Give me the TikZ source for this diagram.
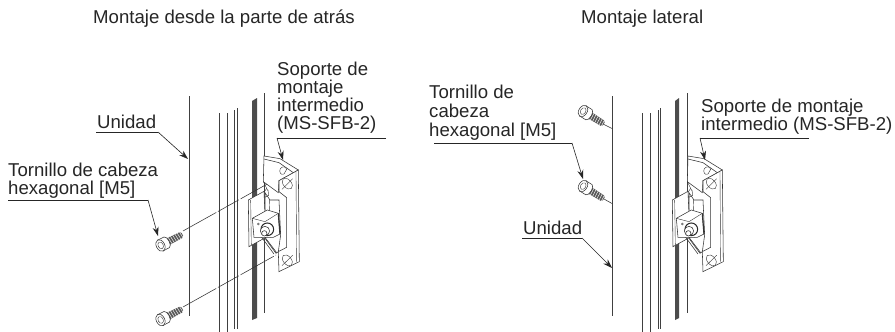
\documentclass[tikz,border=0pt]{standalone}
\usepackage{fontspec}
\setmainfont{Liberation Sans}
\usetikzlibrary{arrows.meta}
\tikzset{
  every picture/.style={x=1pt,y=-1pt},
  lbl/.style={inner sep=0pt,anchor=base west,font=\fontsize{18.6}{18}\selectfont,text=black!85},
  lead/.style={line width=0.6pt,black!85},
  arr/.style={line width=0.6pt,black!85,-{Stealth[length=9pt,width=6pt]}},
  part/.style={line width=0.55pt,black!80},
  thin part/.style={line width=0.4pt,black!80},
  rail/.style={line width=0.75pt,black!75},
  ctr/.style={line width=0.55pt,black!80,dash pattern=on 38pt off 2pt on 24pt off 2pt},
}
\newcommand{\bracketpart}{%
  % top flange
  \draw[part,fill=white] (402,18) -- (450,26) -- (505,60) -- (447,92) -- (445,128) -- (400,95) -- cycle;
  \draw[part] (402,27) -- (447,38) -- (490,68);
  \draw[thin part,fill=white] (450,58) .. controls (456,46) and (468,50) .. (470,58) -- (462,72) .. controls (452,76) and (448,68) .. (450,58) -- cycle;
  % main face
  \draw[part,fill=white] (447,92) -- (505,60) -- (508,335) -- (447,365) -- (445,305) -- (470,292) -- (470,143) -- (447,125) -- cycle;
  \draw[thin part] (498,66) -- (500,335);
  \draw[thin part,rotate around={-50:(472,101)},fill=white] (472,101) ellipse (19 and 12);
  \draw[thin part,rotate around={-50:(472,331)},fill=white] (472,331) ellipse (19 and 12);
  \draw[thin part] (456,118) -- (488,86);
  \draw[thin part] (456,347) -- (488,316);
  % inner slot
  \draw[part,fill=white] (405,128) -- (420,150) -- (447,150) -- (452,255) -- (445,305) -- (438,310) -- (405,265) -- cycle;
  \draw[thin part] (418,150) -- (422,262);
  \draw[thin part] (400,95) -- (415,125) (410,115) -- (400,130) -- (404,142) -- (416,136) -- (414,120);
  % front plate
  \draw[part,fill=white] (355,150) -- (402,124) -- (408,262) -- (357,290) -- cycle;
  \draw[thin part] (362,150) -- (364,285);
  % block
  \draw[part,fill=white] (367,205) -- (412,180) -- (445,190) -- (450,252) -- (430,262) -- (412,262) -- (372,262) -- cycle;
  \draw[thin part] (367,205) -- (405,215) -- (445,190);
  \draw[line width=1.2pt,black!80] (445,190) -- (450,252);
  % bolt
  \draw[line width=1pt,black!85,fill=white] (412,238) circle (19);
  \draw[part,fill=white] (405,243) circle (14);
  \draw[part,fill=white] (403,250) circle (8);
  \draw[thin part] (385,222) circle (3);
  \draw[part] (405,262) -- (440,308) (395,262) -- (432,312);
}
\newcommand{\screw}[1]{%
  \begin{scope}[#1]
    % thread
    \fill[black!65] (9,-3.6) -- (23,-3.2) -- (24.5,-1.5) -- (24.5,1.5) -- (23,3.2) -- (9,3.6) -- cycle;
    \foreach \tx in {10.5,13,15.5,18,20.5,23} \draw[white,line width=0.45pt] (\tx,-3.8) -- (\tx+0.6,3.8);
    % head
    \draw[part,fill=white] (0,-6) -- (7,-6) .. controls (10.5,-5.5) and (10.5,5.5) .. (7,6) -- (0,6) -- cycle;
    \draw[part,fill=white] (0,0) ellipse (4.2 and 6.2);
    \draw[thin part] (0.2,0) ellipse (2.6 and 3.6);
  \end{scope}
}
\begin{document}
\begin{tikzpicture}
\useasboundingbox (0,0) rectangle (895,332);
\fill[white] (0,0) rectangle (895,332);

% ---------- titles
\node[lbl] (t1) at (93,23.5) {Montaje desde la parte de atrás};
\node[lbl] (t2) at (581,23.5) {Montaje lateral};

% ---------- left rails
\draw[rail] (189,96) -- (189,316);
\draw[rail] (219,113) -- (219,332);
\draw[rail] (227,113) -- (227,332);
\draw[line width=0.9pt,black!75] (234.5,110) -- (234.5,329);
\draw[line width=1.1pt,black!75] (237.3,108) -- (237.3,329);
\fill[black!70] (252,101) -- (257,98) -- (257,318) -- (252,320) -- cycle;
\draw[rail] (264,93) -- (264,313);

% left leaders
\draw[ctr] (183,231) -- (278,178);
\draw[ctr] (183,307) -- (276,255);

% left bracket
\begin{scope}[shift={(130,150)},x=0.3333pt,y=-0.3333pt]
  \bracketpart
\end{scope}
% left screws
\screw{shift={(160.5,245.5)},rotate=27}
\screw{shift={(160.5,320)},rotate=27}

% ---------- right rails
\draw[rail] (612,96) -- (612,316);
\draw[rail] (642.5,113) -- (642.5,332);
\draw[rail] (650.5,113) -- (650.5,332);
\draw[line width=0.9pt,black!75] (658,110) -- (658,329);
\draw[line width=1.1pt,black!75] (660.5,108) -- (660.5,329);
\fill[black!70] (675,101) -- (679,98) -- (679,318) -- (675,320) -- cycle;
\draw[rail] (687,93) -- (687,313);

% right leaders
\coordinate (s1) at (603,124);
\coordinate (s1e) at (612,128.5);
\coordinate (s2) at (604,199);
\coordinate (s2e) at (612,203.5);
\draw[part] (s1) -- (s1e);
\draw[part] (s2) -- (s2e);

% right bracket
\begin{scope}[shift={(554,150)},x=0.3333pt,y=-0.3333pt]
  \bracketpart
\end{scope}
% right screws
\screw{shift={(583,186)},rotate=-32}
\screw{shift={(583,111)},rotate=-32}

% ---------- left labels
\node[lbl] (u1) at (97,128) {Unidad};
\coordinate (u1a) at (96,132);
\coordinate (u1b) at (158,132);
\coordinate (u1c) at (188,159);
\draw[lead] (u1a) -- (u1b);
\draw[arr] (u1b) -- (u1c);

\node[lbl] (h1a) at (8,176) {Tornillo de cabeza};
\node[lbl] (h1b) at (8,194) {hexagonal [M5]};
\coordinate (h1c) at (8,200);
\coordinate (h1d) at (148,200);
\coordinate (h1e) at (158,236);
\draw[lead] (h1c) -- (h1d);
\draw[arr] (h1d) -- (h1e);

\node[lbl] (p1a) at (277,75) {Soporte de};
\node[lbl] (p1b) at (277,93) {montaje};
\node[lbl] (p1c) at (277,111) {intermedio};
\node[lbl] (p1d) at (277,129.5) {(MS-SFB-2)};
\coordinate (p1e) at (386,138);
\coordinate (p1f) at (277,138);
\coordinate (p1g) at (283,160);
\draw[lead] (p1e) -- (p1f);
\draw[arr] (p1f) -- (p1g);

% ---------- right labels
\node[lbl] (h2a) at (429,98) {Tornillo de};
\node[lbl] (h2b) at (429,117) {cabeza};
\node[lbl] (h2c) at (429,136) {hexagonal [M5]};
\coordinate (h2d) at (434,143);
\coordinate (h2e) at (572,143);
\coordinate (h2f) at (583,179);
\draw[lead] (h2d) -- (h2e);
\draw[arr] (h2e) -- (h2f);

\node[lbl] (u2) at (523,234) {Unidad};
\coordinate (u2a) at (522,238);
\coordinate (u2b) at (582,238);
\coordinate (u2c) at (612,268);
\draw[lead] (u2a) -- (u2b);
\draw[arr] (u2b) -- (u2c);

\node[lbl] (p2a) at (701,112) {Soporte de montaje};
\node[lbl] (p2b) at (701,130) {intermedio (MS-SFB-2)};
\coordinate (p2c) at (809,138);
\coordinate (p2d) at (700,138);
\coordinate (p2e) at (705,160);
\draw[lead] (p2c) -- (p2d);
\draw[arr] (p2d) -- (p2e);
\end{tikzpicture}
\end{document}
